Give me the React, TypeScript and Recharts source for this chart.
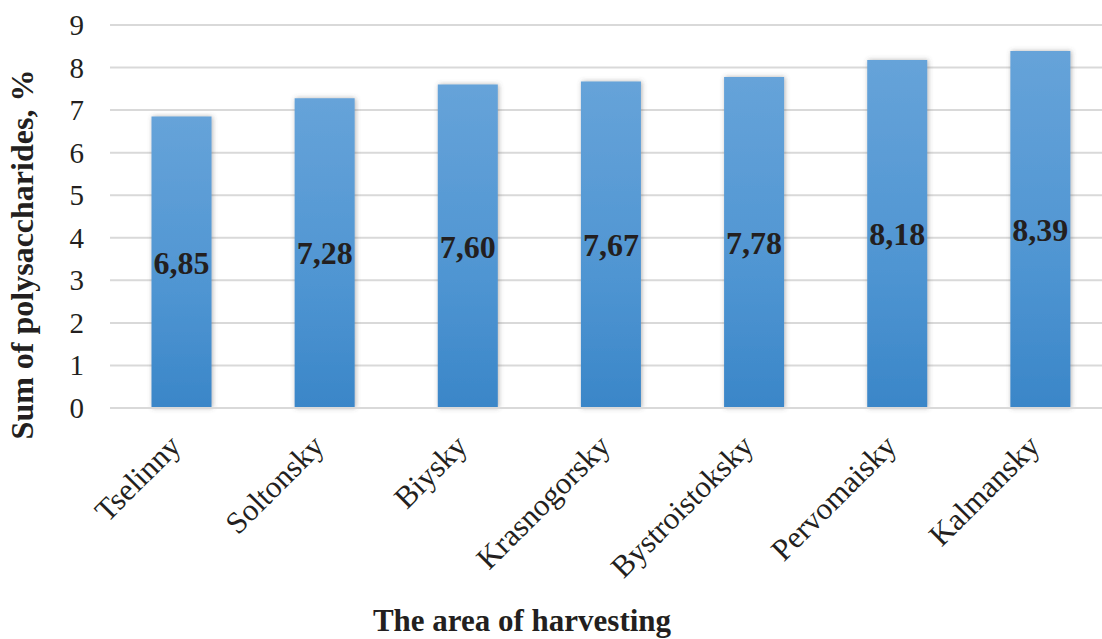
import React from 'react'
import { BarChart, Bar, XAxis, YAxis, CartesianGrid, LabelList } from 'recharts'

const areas = ['Tselinny', 'Soltonsky', 'Biysky', 'Krasnogorsky', 'Bystroistoksky', 'Pervomaisky', 'Kalmansky']
const polysaccharides = [6.85, 7.28, 7.6, 7.67, 7.78, 8.18, 8.39]
const yTicks = [0, 1, 2, 3, 4, 5, 6, 7, 8, 9]

const data = areas.map((area, i) => ({ area, value: polysaccharides[i] }))

const SERIF = 'Liberation Serif'

const XTick = (props: any) => {
  const { x, y, payload } = props
  const tx = x + 1
  const ty = y + 32
  return (
    <text
      x={tx}
      y={ty}
      transform={`rotate(-45 ${tx} ${ty})`}
      textAnchor="end"
      style={{ fontFamily: SERIF, fontSize: 31, fill: '#231f20' }}
    >
      {payload.value}
    </text>
  )
}

const YTick = (props: any) => {
  const { x, y, payload } = props
  return (
    <text x={x - 18} y={y + 10} textAnchor="end" style={{ fontFamily: SERIF, fontSize: 29, fill: '#231f20' }}>
      {payload.value}
    </text>
  )
}

const fmt = (v: any) => Number(v).toFixed(2).replace('.', ',')

export default function App() {
  return (
    <div style={{ position: 'absolute', left: 0, top: 0, width: 1102, height: 639, overflow: 'hidden', background: '#fff' }}>
      <BarChart
        width={1115}
        height={639}
        data={data}
        margin={{ top: 25, right: 3, left: 0, bottom: 0 }}
        barCategoryGap="29%"
      >
        <defs>
          <linearGradient id="barFill" x1="0" y1="0" x2="0" y2="1">
            <stop offset="0%" stopColor="#66a3d9" />
            <stop offset="60%" stopColor="#4f95d2" />
            <stop offset="100%" stopColor="#3a86c8" />
          </linearGradient>
          <filter id="barShadow" x="-20%" y="-5%" width="140%" height="110%">
            <feDropShadow dx="1" dy="0" stdDeviation="2.5" floodColor="#555" floodOpacity="0.45" />
          </filter>
        </defs>
        <CartesianGrid vertical={false} stroke="#d9d9d9" strokeWidth={2} />
        <XAxis
          dataKey="area"
          height={231}
          tick={<XTick />}
          tickLine={false}
          axisLine={{ stroke: '#d9d9d9', strokeWidth: 2 }}
          interval={0}
          label={{
            value: 'The area of harvesting',
            position: 'insideBottom',
            offset: 8,
            dx: -89,
            style: { fontFamily: SERIF, fontSize: 31, fontWeight: 'bold', fill: '#231f20' },
          }}
        />
        <YAxis
          width={110}
          domain={[0, 9]}
          ticks={yTicks}
          tick={<YTick />}
          tickLine={false}
          axisLine={false}
          label={{
            value: 'Sum of polysaccharides, %',
            angle: -90,
            position: 'insideLeft',
            dx: 17,
            dy: 38,
            style: { fontFamily: SERIF, fontSize: 32, fontWeight: 'bold', fill: '#231f20', textAnchor: 'middle' },
          }}
        />
        <Bar dataKey="value" fill="url(#barFill)" filter="url(#barShadow)" isAnimationActive={false}>
          <LabelList
            dataKey="value"
            position="center"
            formatter={fmt}
            style={{ fontFamily: SERIF, fontSize: 32, fontWeight: 'bold', fill: '#231f20' }}
          />
        </Bar>
      </BarChart>
    </div>
  )
}
